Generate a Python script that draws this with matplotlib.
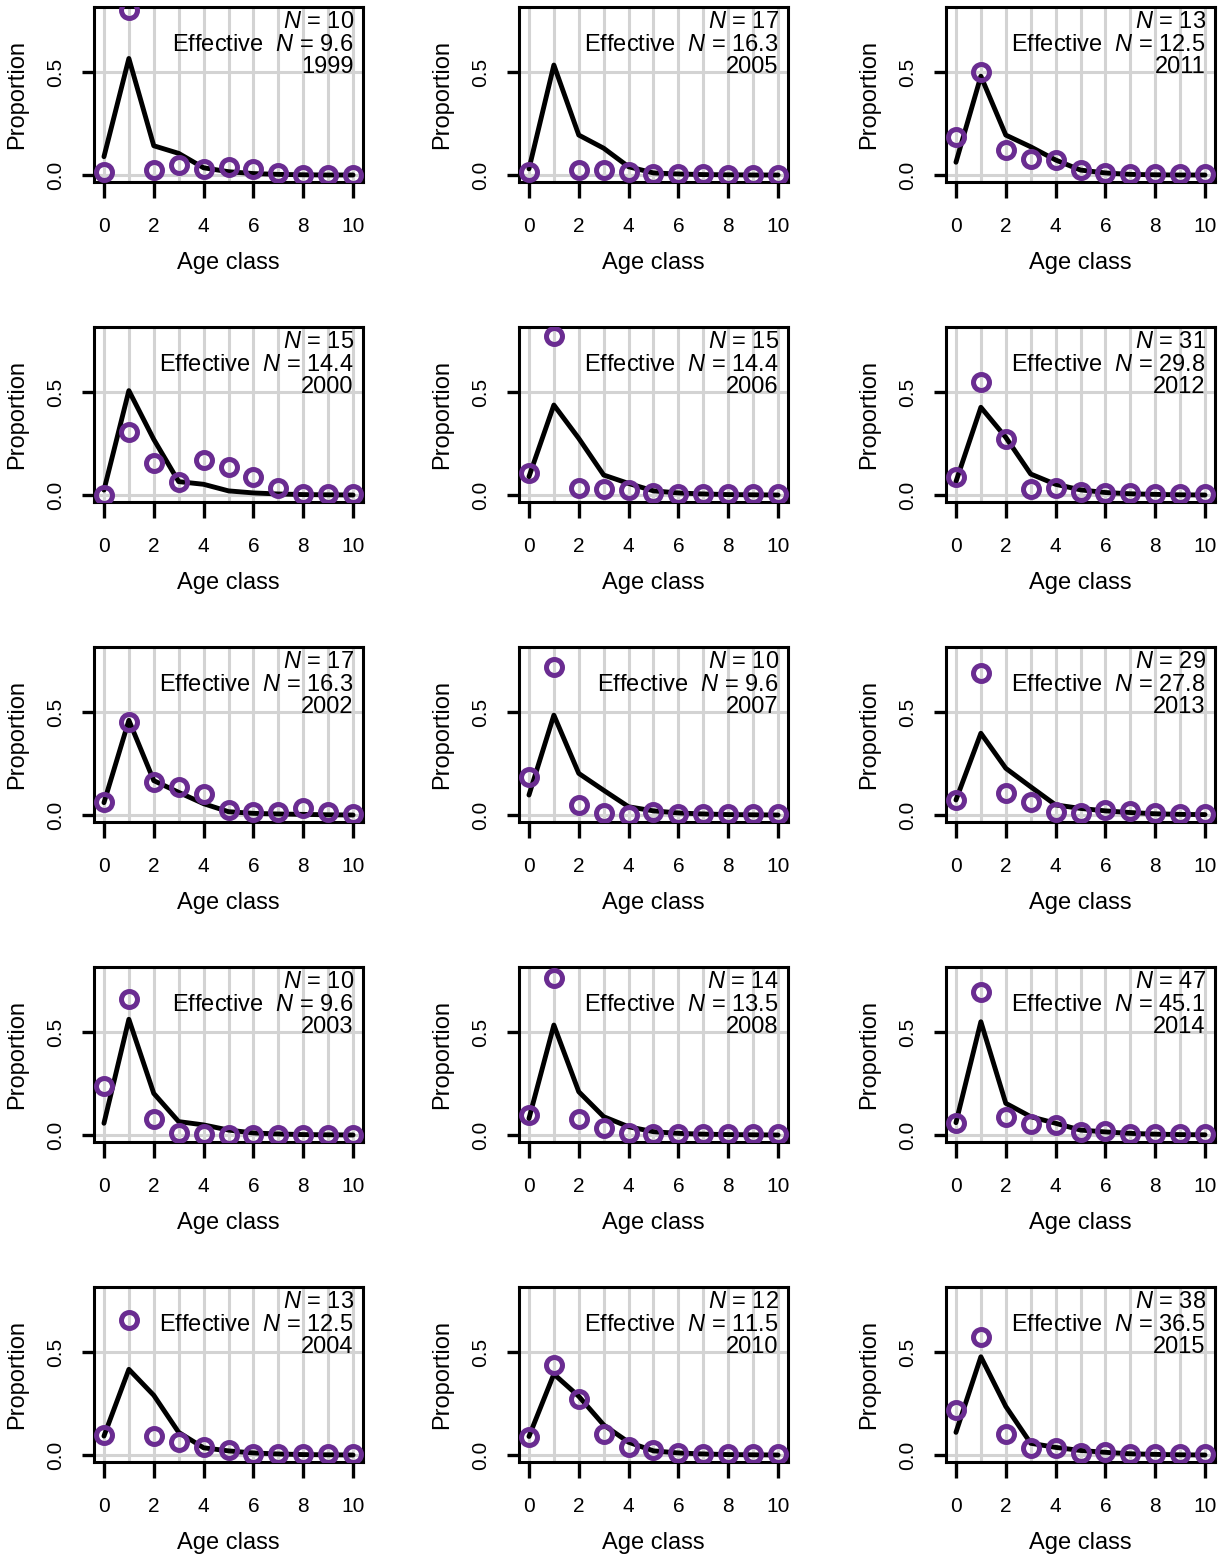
import matplotlib
matplotlib.use("Agg")
import matplotlib.pyplot as plt
import numpy as np

plt.rcParams['font.family'] = ['Liberation Sans', 'DejaVu Sans']
plt.rcParams['mathtext.fontset'] = 'custom'
plt.rcParams['mathtext.rm'] = 'Liberation Sans'
plt.rcParams['mathtext.it'] = 'Liberation Sans:italic'

# panels go down the columns
years = [1999, 2000, 2002, 2003, 2004,
         2005, 2006, 2007, 2008, 2010,
         2011, 2012, 2013, 2014, 2015]
n_obs = [10, 15, 17, 10, 13,
         17, 15, 10, 14, 12,
         13, 31, 29, 47, 38]
n_eff = [9.6, 14.4, 16.3, 9.6, 12.5,
         16.3, 14.4, 9.6, 13.5, 11.5,
         12.5, 29.8, 27.8, 45.1, 36.5]
age = np.arange(11)

# observed proportions (circles)
observed = [
    [0.015, 0.80, 0.025, 0.05, 0.03, 0.04, 0.03, 0.01, 0.0, 0.0, 0.0],
    [0.0, 0.304, 0.154, 0.065, 0.17, 0.134, 0.089, 0.032, 0.003, 0.003, 0.003],
    [0.065, 0.45, 0.159, 0.134, 0.102, 0.024, 0.013, 0.016, 0.032, 0.013, 0.003],
    [0.238, 0.66, 0.076, 0.008, 0.005, 0.002, 0.001, 0.001, 0.001, 0.001, 0.001],
    [0.097, 0.655, 0.094, 0.065, 0.04, 0.024, 0.005, 0.003, 0.003, 0.003, 0.003],
    [0.013, 0.90, 0.023, 0.023, 0.013, 0.003, 0.005, 0.005, 0.002, 0.002, 0.002],
    [0.105, 0.772, 0.032, 0.027, 0.024, 0.008, 0.005, 0.005, 0.003, 0.003, 0.003],
    [0.186, 0.72, 0.049, 0.008, 0.0, 0.013, 0.005, 0.003, 0.003, 0.003, 0.003],
    [0.097, 0.765, 0.076, 0.032, 0.008, 0.003, 0.003, 0.003, 0.003, 0.003, 0.003],
    [0.089, 0.435, 0.274, 0.102, 0.04, 0.024, 0.008, 0.003, 0.003, 0.003, 0.003],
    [0.183, 0.498, 0.121, 0.078, 0.073, 0.024, 0.011, 0.003, 0.003, 0.003, 0.003],
    [0.089, 0.547, 0.27, 0.028, 0.032, 0.013, 0.01, 0.008, 0.003, 0.003, 0.003],
    [0.073, 0.688, 0.105, 0.065, 0.013, 0.008, 0.024, 0.02, 0.008, 0.005, 0.003],
    [0.057, 0.696, 0.089, 0.053, 0.049, 0.013, 0.02, 0.005, 0.003, 0.003, 0.003],
    [0.218, 0.574, 0.10, 0.032, 0.036, 0.011, 0.016, 0.005, 0.003, 0.003, 0.003],
]

# fitted proportions (black line)
fitted = [
    [0.089, 0.566, 0.142, 0.105, 0.035, 0.016, 0.007, 0.003, 0.001, 0.0, 0.0],
    [0.024, 0.507, 0.27, 0.065, 0.052, 0.02, 0.01, 0.005, 0.002, 0.001, 0.0],
    [0.06, 0.46, 0.167, 0.11, 0.055, 0.016, 0.008, 0.005, 0.003, 0.001, 0.0],
    [0.057, 0.562, 0.202, 0.065, 0.049, 0.024, 0.01, 0.005, 0.002, 0.001, 0.0],
    [0.092, 0.416, 0.29, 0.11, 0.035, 0.02, 0.01, 0.005, 0.002, 0.001, 0.0],
    [0.03, 0.534, 0.194, 0.13, 0.04, 0.01, 0.005, 0.002, 0.001, 0.0, 0.0],
    [0.089, 0.437, 0.275, 0.097, 0.056, 0.02, 0.01, 0.005, 0.002, 0.001, 0.0],
    [0.097, 0.485, 0.202, 0.12, 0.04, 0.02, 0.01, 0.005, 0.002, 0.001, 0.0],
    [0.08, 0.534, 0.21, 0.089, 0.04, 0.016, 0.008, 0.004, 0.002, 0.001, 0.0],
    [0.09, 0.393, 0.285, 0.146, 0.062, 0.02, 0.01, 0.005, 0.002, 0.001, 0.0],
    [0.062, 0.48, 0.194, 0.137, 0.073, 0.024, 0.01, 0.003, 0.001, 0.0, 0.0],
    [0.065, 0.426, 0.28, 0.102, 0.052, 0.025, 0.012, 0.006, 0.003, 0.001, 0.0],
    [0.073, 0.397, 0.227, 0.137, 0.049, 0.032, 0.02, 0.012, 0.006, 0.003, 0.002],
    [0.06, 0.55, 0.154, 0.089, 0.057, 0.024, 0.015, 0.008, 0.004, 0.002, 0.001],
    [0.11, 0.477, 0.236, 0.057, 0.037, 0.022, 0.013, 0.006, 0.003, 0.001, 0.0],
]

purple = "#6a2c91"
grid_col = "#d3d3d3"

fig = plt.figure(figsize=(12.25, 15.57), dpi=100)
W, H = 1225.0, 1557.0
col_left = [94, 519, 946]

for i, yr in enumerate(years):
    col = i // 5
    row = i % 5
    top = 7 + 320 * row
    ax = fig.add_axes([col_left[col] / W, 1 - (top + 175) / H, 269 / W, 175 / H])

    for xg in age:
        ax.axvline(xg, color=grid_col, lw=2.2, zorder=0)
    for yg in [0, 0.5]:
        ax.axhline(yg, color=grid_col, lw=2.2, zorder=0)

    ax.plot(age, fitted[i], color="k", lw=3.5, solid_capstyle="round",
            solid_joinstyle="round", zorder=2)
    ax.plot(age, observed[i], ls="none", marker="o", ms=11.5, mfc="none",
            mec=purple, mew=3.6, zorder=3)

    ax.set_xlim(-0.4, 10.4)
    ax.set_ylim(-0.034, 0.816)
    ax.set_xticks([0, 2, 4, 6, 8, 10])
    ax.set_yticks([0, 0.5])
    ax.set_yticklabels(["0.0", "0.5"], rotation=90, va="center")
    ax.tick_params(axis="x", length=11.5, width=2.4, pad=14, labelsize=15)
    ax.tick_params(axis="y", length=8.6, width=2.4, pad=12, labelsize=15)
    for s in ax.spines.values():
        s.set_linewidth(2.2)

    ax.set_xlabel("Age class", fontsize=17)
    ax.set_ylabel("Proportion", fontsize=17)
    ax.xaxis.set_label_coords(0.5, -0.40)
    ax.yaxis.set_label_coords(-0.246, 0.5)

    ax.text(0.966, 0.878, "$N$ = %d" % n_obs[i], transform=ax.transAxes,
            ha="right", va="baseline", fontsize=17)
    ax.text(0.966, 0.748, "Effective  $N$ = %.1f" % n_eff[i], transform=ax.transAxes,
            ha="right", va="baseline", fontsize=17)
    ax.text(0.966, 0.622, str(yr), transform=ax.transAxes,
            ha="right", va="baseline", fontsize=17)

fig.savefig("out.png", dpi=100)
